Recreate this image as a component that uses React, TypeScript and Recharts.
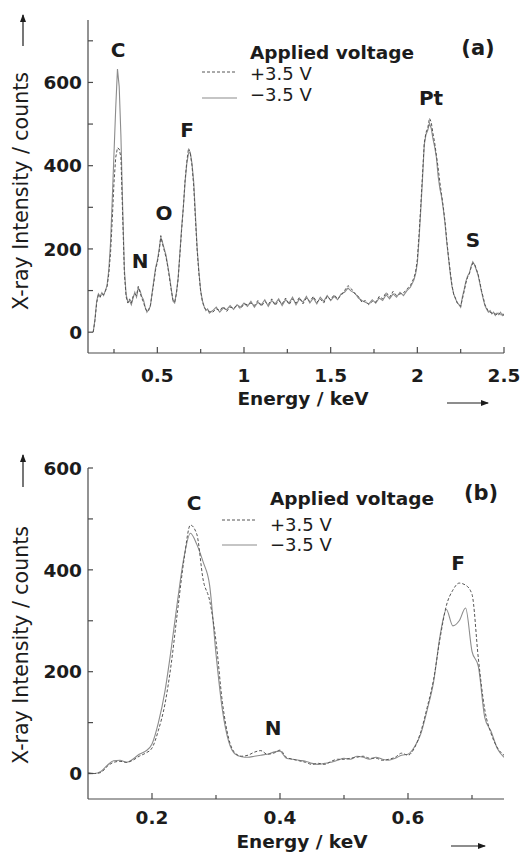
import { LineChart, Line, XAxis, YAxis } from "recharts"

// panel (a): wide energy range
const energyA = [
  0.13, 0.14, 0.15, 0.16, 0.17, 0.18, 0.19,
  0.2, 0.21, 0.22, 0.23, 0.24, 0.25, 0.26, 0.27, 0.28, 0.29,
  0.3, 0.31, 0.32, 0.33, 0.34, 0.35, 0.36, 0.37, 0.38, 0.39,
  0.4, 0.41, 0.42, 0.43, 0.44, 0.45, 0.46, 0.47, 0.48, 0.49,
  0.5, 0.51, 0.52, 0.53, 0.54, 0.55, 0.56, 0.57, 0.58, 0.59,
  0.6, 0.61, 0.62, 0.63, 0.64, 0.65, 0.66, 0.67, 0.68, 0.69,
  0.7, 0.71, 0.72, 0.73, 0.74, 0.75, 0.76, 0.77, 0.78, 0.79,
  0.8,
  0.82, 0.84, 0.86, 0.88, 0.9, 0.92, 0.94, 0.96, 0.98, 1.0,
  1.02, 1.04, 1.06, 1.08, 1.1, 1.12, 1.14, 1.16, 1.18, 1.2,
  1.22, 1.24, 1.26, 1.28, 1.3, 1.32, 1.34, 1.36, 1.38, 1.4,
  1.42, 1.44, 1.46, 1.48, 1.5, 1.52, 1.54, 1.56, 1.58, 1.6,
  1.62, 1.64, 1.66, 1.68, 1.7, 1.72, 1.74, 1.76, 1.78, 1.8,
  1.82, 1.84, 1.86, 1.88, 1.9, 1.92, 1.94, 1.96, 1.98,
  1.99, 2.0, 2.01, 2.02, 2.03, 2.04, 2.05, 2.06, 2.07, 2.08,
  2.09, 2.1, 2.11, 2.12, 2.13, 2.14, 2.15, 2.16, 2.17, 2.18,
  2.19, 2.2, 2.21, 2.22, 2.23, 2.24, 2.25, 2.26, 2.27, 2.28,
  2.29, 2.3, 2.31, 2.32, 2.33, 2.34, 2.35, 2.36, 2.37, 2.38,
  2.39, 2.4, 2.41, 2.42, 2.43, 2.44, 2.45, 2.46, 2.47, 2.48,
  2.49, 2.5,
]

const plusA = [
  0, 28, 70, 90, 84, 92, 90,
  98, 110, 140, 190, 270, 360, 420, 443, 440, 420,
  280, 140, 85, 70, 80, 70, 86, 92, 88, 110,
  96, 82, 72, 58, 50, 52, 65, 92, 120, 150,
  168, 192, 232, 212, 196, 180, 158, 130, 102, 78,
  72, 92, 128, 185, 245, 300, 365, 410, 442, 430,
  400, 350, 270, 195, 140, 98, 74, 60, 54, 52,
  50,
  48, 56, 52, 62, 50, 60, 58, 64, 56, 68,
  66, 70, 64, 76, 62, 74, 66, 80, 64, 76,
  68, 82, 66, 80, 70, 84, 68, 82, 74, 86,
  72, 80, 70, 86, 78, 90, 80, 88, 100, 112,
  104, 92, 86, 72, 76, 66, 74, 72, 86, 80,
  96, 84, 98, 88, 92, 94, 104, 112, 130,
  145, 175, 235, 305, 380, 455, 480, 490, 514, 505,
  478, 455, 425, 395, 360, 330, 300, 265, 220, 180,
  145, 112, 90, 82, 70, 68, 62, 80, 98, 118,
  132, 140, 155, 166, 164, 152, 140, 122, 100, 84,
  66, 58, 50, 48, 46, 44, 44, 42, 46, 42,
  44, 40,
]

const minusA = [
  0, 30, 75, 92, 86, 95, 88,
  100, 112, 150, 215, 320, 430, 540, 632, 590, 470,
  300, 150, 90, 72, 76, 66, 82, 96, 84, 106,
  100, 86, 78, 60, 48, 55, 62, 95, 125, 155,
  172, 198, 228, 215, 200, 185, 160, 135, 105, 75,
  70, 95, 130, 190, 250, 300, 360, 405, 430, 432,
  405, 360, 280, 200, 145, 100, 76, 62, 52, 56,
  46,
  52, 60, 48, 58, 54, 64, 55, 66, 60, 70,
  62, 74, 60, 72, 66, 78, 62, 76, 68, 80,
  64, 78, 70, 84, 66, 80, 72, 86, 70, 82,
  68, 84, 74, 88, 76, 86, 78, 92, 96, 106,
  98, 94, 82, 76, 72, 68, 78, 70, 82, 76,
  90, 80, 92, 84, 96, 88, 100, 108, 125,
  140, 165, 225, 295, 370, 450, 475, 485, 502, 490,
  465, 445, 420, 375, 345, 325, 295, 260, 215, 178,
  140, 110, 92, 80, 72, 66, 60, 85, 102, 122,
  135, 142, 158, 169, 162, 150, 138, 118, 98, 80,
  64, 55, 48, 52, 44, 48, 40, 46, 42, 48,
  40, 44,
]

// panel (b): low energy zoom
const energyB = [
  0.1, 0.11, 0.12, 0.13, 0.14, 0.15, 0.16, 0.17, 0.18, 0.19,
  0.2, 0.21, 0.22, 0.23, 0.24, 0.25, 0.26, 0.27, 0.28, 0.29,
  0.3, 0.31, 0.32, 0.33, 0.34, 0.35, 0.36, 0.37, 0.38, 0.39,
  0.4, 0.41, 0.42, 0.43, 0.44, 0.45, 0.46, 0.47, 0.48, 0.49,
  0.5, 0.51, 0.52, 0.53, 0.54, 0.55, 0.56, 0.57, 0.58, 0.59,
  0.6, 0.61, 0.62, 0.63, 0.64, 0.65, 0.66, 0.67, 0.68, 0.69,
  0.7, 0.71, 0.72, 0.73, 0.74, 0.75,
]

const plusB = [
  0, 0, 2, 14, 22, 24, 22, 26, 34, 40,
  50, 85, 135, 215, 320, 420, 488, 470, 380, 340,
  260, 140, 68, 40, 34, 36, 42, 45, 38, 40,
  46, 32, 28, 25, 22, 18, 20, 18, 24, 28,
  28, 30, 32, 34, 30, 30, 26, 28, 32, 40,
  36, 50, 82, 130, 185, 265, 330, 360, 374, 370,
  352, 225, 125, 78, 50, 36,
]

const minusB = [
  2, 0, 4, 16, 25, 26, 22, 28, 38, 44,
  58, 100, 160, 245, 340, 425, 472, 450, 415, 370,
  235, 125, 62, 38, 33, 32, 34, 36, 38, 42,
  44, 30, 28, 26, 24, 20, 18, 20, 22, 26,
  30, 28, 34, 32, 28, 32, 28, 26, 30, 36,
  38, 52, 78, 125, 180, 270, 322, 290, 300, 325,
  240, 210, 110, 82, 48, 32,
]

const xTicksA = [0.25, 0.5, 0.75, 1, 1.25, 1.5, 1.75, 2, 2.25, 2.5]
const xLabelsA = ["", "0.5", "", "1", "", "1.5", "", "2", "", "2.5"]
const yTicksA = [0, 100, 200, 300, 400, 500, 600, 700]
const yLabelsA = ["0", "", "200", "", "400", "", "600", ""]

const xTicksB = [0.2, 0.3, 0.4, 0.5, 0.6, 0.7]
const xLabelsB = ["0.2", "", "0.4", "", "0.6", ""]
const yTicksB = [0, 100, 200, 300, 400, 500, 600]
const yLabelsB = ["0", "", "200", "", "400", "", "600"]

const dataA = energyA.map((e, i) => ({ e, plus: plusA[i], minus: minusA[i] }))
const dataB = energyB.map((e, i) => ({ e, plus: plusB[i], minus: minusB[i] }))

const AXIS = "#4a4a4a"
const INK = "#1c1c1c"
const FONT = "DejaVu Sans"

function yTick(ticks: number[], labels: string[]) {
  return (props: any) => {
    const { x, y, payload } = props
    const i = ticks.indexOf(payload.value)
    const ax = x + 6
    return (
      <g>
        <line x1={ax} x2={ax + 5} y1={y} y2={y} stroke={AXIS} strokeWidth={1.2} />
        <text x={x} y={y} dy="0.36em" textAnchor="end" fontFamily={FONT} fontWeight="bold"
          fontSize={18.5} fill={INK}>{labels[i]}</text>
      </g>
    )
  }
}

function xTick(ticks: number[], labels: string[], off: number) {
  return (props: any) => {
    const { x, y, payload } = props
    const i = ticks.indexOf(payload.value)
    const major = labels[i] !== ""
    return (
      <g>
        <line x1={x} x2={x} y1={y} y2={y - (major ? 6 : 4)} stroke={AXIS} strokeWidth={1.2} />
        <text x={x} y={y + off} dy="0.36em" textAnchor="middle" fontFamily={FONT} fontWeight="bold"
          fontSize={18.5} fill={INK}>{labels[i]}</text>
      </g>
    )
  }
}

function Panel(props: {
  data: any[]; height: number; top: number; bottom: number; xh: number
  xDomain: number[]; yDomain: number[]; xTicks: number[]; xLabels: string[]
  yTicks: number[]; yLabels: string[]; off: number; smooth: boolean
}) {
  const p = props
  return (
    <LineChart width={524} height={p.height} data={p.data}
      margin={{ top: p.top, right: 20, bottom: p.bottom, left: 0 }}>
      <XAxis type="number" dataKey="e" domain={p.xDomain} ticks={p.xTicks} interval={0}
        allowDataOverflow height={p.xh} tickSize={0} tickMargin={0}
        axisLine={{ stroke: AXIS, strokeWidth: 1.2 }} tickLine={false}
        tick={xTick(p.xTicks, p.xLabels, p.off)} />
      <YAxis type="number" domain={p.yDomain} ticks={p.yTicks} interval={0} allowDataOverflow
        width={88} tickSize={0} tickMargin={6}
        axisLine={{ stroke: AXIS, strokeWidth: 1.2 }} tickLine={false}
        tick={yTick(p.yTicks, p.yLabels)} />
      <Line dataKey="minus" type={p.smooth ? "monotone" : "linear"} stroke="#8c8c8c"
        strokeWidth={1.1} dot={false} isAnimationActive={false} />
      <Line dataKey="plus" type={p.smooth ? "monotone" : "linear"} stroke="#555"
        strokeWidth={1} strokeDasharray="3 2" dot={false} isAnimationActive={false} />
    </LineChart>
  )
}

function Legend(props: { x: number; lx: number; y0: number; y1: number; y2: number; d: number; s: number }) {
  const { x, lx, y0, y1, y2, d, s } = props
  return (
    <g fontFamily={FONT} fill={INK}>
      <text x={x} y={y0} fontSize={18.5} fontWeight="bold">Applied voltage</text>
      <line x1={lx} x2={lx + 33} y1={d} y2={d} stroke="#555" strokeWidth={1} strokeDasharray="3 2" />
      <text x={x} y={y1} fontSize={18}>+3.5 V</text>
      <line x1={lx} x2={lx + 35} y1={s} y2={s} stroke="#8c8c8c" strokeWidth={1.1} />
      <text x={x} y={y2} fontSize={18}>−3.5 V</text>
    </g>
  )
}

export default function App() {
  const peak = { fontFamily: FONT, fontWeight: "bold" as const, fontSize: 20, fill: INK, textAnchor: "middle" as const }
  return (
    <div style={{ position: "absolute", left: 0, top: 0, width: 524, height: 857, background: "#fff" }}>
      <div style={{ position: "absolute", left: 0, top: 0 }}>
        <Panel data={dataA} height={420} top={20} bottom={7} xh={60} xDomain={[0.1, 2.5]} yDomain={[-50, 750]}
          xTicks={xTicksA} xLabels={xLabelsA} yTicks={yTicksA} yLabels={yLabelsA} off={22} smooth={false} />
      </div>
      <div style={{ position: "absolute", left: 0, top: 430 }}>
        <Panel data={dataB} height={427} top={38} bottom={8} xh={50} xDomain={[0.1, 0.75]} yDomain={[-50, 600]}
          xTicks={xTicksB} xLabels={xLabelsB} yTicks={yTicksB} yLabels={yLabelsB} off={18} smooth={true} />
      </div>
      <svg width={524} height={857} style={{ position: "absolute", left: 0, top: 0, pointerEvents: "none" }}>
        <defs>
          <marker id="ah" markerWidth="8" markerHeight="8" refX="7" refY="4" orient="auto" markerUnits="userSpaceOnUse">
            <path d="M0,1 L8,4 L0,7 Z" fill={INK} />
          </marker>
        </defs>
        {/* panel (a) */}
        <text transform="translate(28,191) rotate(-90)" textAnchor="middle" fontFamily={FONT} fontSize={20.5} fill={INK}>
          X-ray Intensity / counts
        </text>
        <line x1={23} x2={23} y1={46} y2={15} stroke={INK} strokeWidth={1.2} markerEnd="url(#ah)" />
        <text x={303} y={405} textAnchor="middle" fontFamily={FONT} fontWeight="bold" fontSize={18.5} fill={INK}>
          Energy / keV
        </text>
        <line x1={447} x2={488} y1={403} y2={403} stroke={INK} strokeWidth={1.2} markerEnd="url(#ah)" />
        <text x={478} y={55} {...peak} fontSize={21}>(a)</text>
        <text x={118} y={57} {...peak}>C</text>
        <text x={140} y={268} {...peak}>N</text>
        <text x={164} y={220} {...peak}>O</text>
        <text x={187} y={137} {...peak}>F</text>
        <text x={431} y={105} {...peak}>Pt</text>
        <text x={473} y={247} {...peak}>S</text>
        <Legend x={250} lx={202} y0={59} y1={80} y2={101} d={72} s={98} />
        {/* panel (b) */}
        <text transform="translate(28,645) rotate(-90)" textAnchor="middle" fontFamily={FONT} fontSize={20.5} fill={INK}>
          X-ray Intensity / counts
        </text>
        <line x1={23} x2={23} y1={487} y2={455} stroke={INK} strokeWidth={1.2} markerEnd="url(#ah)" />
        <text x={302} y={848} textAnchor="middle" fontFamily={FONT} fontWeight="bold" fontSize={18.5} fill={INK}>
          Energy / keV
        </text>
        <line x1={451} x2={485} y1={846} y2={846} stroke={INK} strokeWidth={1.2} markerEnd="url(#ah)" />
        <text x={481} y={500} {...peak} fontSize={21}>(b)</text>
        <text x={194} y={510} {...peak}>C</text>
        <text x={273} y={735} {...peak}>N</text>
        <text x={458} y={570} {...peak}>F</text>
        <Legend x={270} lx={222} y0={505} y1={531} y2={551} d={520} s={545} />
      </svg>
    </div>
  )
}
